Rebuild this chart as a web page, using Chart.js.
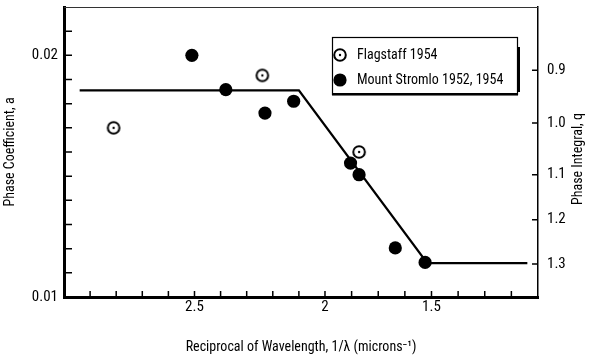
<!DOCTYPE html>
<html>
<head>
<meta charset="utf-8">
<script src="https://cdn.jsdelivr.net/npm/chart.js@4/dist/chart.umd.min.js"></script>
<style>
  html, body { margin: 0; padding: 0; background: #fff; }
  canvas { display: block; }
</style>
</head>
<body>
<canvas id="chart" width="589" height="363"></canvas>
<script>
// Observations: reciprocal wavelength (1/µm) and phase coefficient a
const flagstaffX = [2.81, 2.24, 1.84];
const flagstaffA = [0.0170, 0.01917, 0.0160];
const stromloX = [2.51, 2.38, 2.23, 2.12, 1.88, 1.84, 1.67, 1.53];
const stromloA = [0.0200, 0.01858, 0.01761, 0.0181, 0.01554, 0.01506, 0.01203, 0.01143];

// Adopted relation (broken line)
const fitX = [2.94, 2.10, 1.52, 1.05];
const fitA = [0.01855, 0.01855, 0.0114, 0.0114];

// Axis ticks
const xTickValues = [2.9, 2.8, 2.7, 2.6, 2.5, 2.4, 2.3, 2.2, 2.1, 2.0,
                     1.875, 1.75, 1.625, 1.5, 1.375, 1.25, 1.125];
const xTickLabels = { '2.5': '2.5', '2': '2', '1.5': '1.5' };
const aLabeled = [0.01, 0.02];
const qLabels = ['0.9', '1.0', '1.1', '1.2', '1.3'];
const qAtA = [0.01938, 0.01720, 0.01506, 0.01320, 0.01137];

const FONT = "'Roboto Condensed', 'DejaVu Sans Condensed', sans-serif";

// Wavelength axis: linear pieces between knots, values decreasing to the right
class PiecewiseScale extends Chart.LinearScale {
  static id = 'piecewise';
  static defaults = {};
  _toDecimal(v) {
    const k = this.options.knots;
    for (let i = 0; i < k.length - 1; i++) {
      const a = k[i], b = k[i + 1];
      const lo = Math.min(a.value, b.value), hi = Math.max(a.value, b.value);
      if ((v >= lo && v <= hi) || i === k.length - 2 || (i === 0 && (v - a.value) * (b.value - a.value) < 0)) {
        return a.at + (v - a.value) / (b.value - a.value) * (b.at - a.at);
      }
    }
    return 0;
  }
  _fromDecimal(d) {
    const k = this.options.knots;
    for (let i = 0; i < k.length - 1; i++) {
      const a = k[i], b = k[i + 1];
      if (d <= b.at || i === k.length - 2) {
        return a.value + (d - a.at) / (b.at - a.at) * (b.value - a.value);
      }
    }
    return 0;
  }
  getPixelForValue(value) {
    if (value === null || isNaN(value)) return NaN;
    return this.getPixelForDecimal(this._toDecimal(value));
  }
  getValueForPixel(pixel) {
    return this._fromDecimal(this.getDecimalForPixel(pixel));
  }
}
Chart.register(PiecewiseScale);

// Open circle with a centre dot
function openCircle() {
  const c = document.createElement('canvas');
  c.width = 16; c.height = 16;
  const g = c.getContext('2d');
  g.strokeStyle = '#000'; g.lineWidth = 2;
  g.beginPath(); g.arc(8, 8, 5.8, 0, Math.PI * 2); g.stroke();
  g.fillStyle = '#000';
  g.beginPath(); g.arc(8, 8, 1.2, 0, Math.PI * 2); g.fill();
  return c;
}
const openMarker = openCircle();

const zip = (xs, ys) => xs.map((x, i) => ({ x, y: ys[i] }));

// Vertical axes hug the frame: no extra room for half-height end labels
const noEndPadding = s => {
  s.paddingTop = 0; s.paddingBottom = 0;
};

// Inward tick marks on the frame
const innerTicks = {
  id: 'innerTicks',
  afterDatasetsDraw(chart) {
    const { ctx, chartArea: ca, scales } = chart;
    ctx.save();
    ctx.strokeStyle = '#000';
    ctx.lineWidth = 1.5;
    ctx.beginPath();
    scales.x.ticks.forEach(t => {
      const px = scales.x.getPixelForValue(t.value);
      ctx.moveTo(px, ca.bottom); ctx.lineTo(px, ca.bottom - 6);
    });
    scales.y.ticks.forEach(t => {
      const py = scales.y.getPixelForValue(t.value);
      if (py < ca.top + 2 || py > ca.bottom - 2) return;
      ctx.moveTo(ca.left, py); ctx.lineTo(ca.left + 8, py);
    });
    scales.q.ticks.forEach(t => {
      const py = scales.q.getPixelForValue(t.value);
      ctx.moveTo(ca.right, py); ctx.lineTo(ca.right - 6, py);
    });
    ctx.stroke();
    // top edge of the frame
    ctx.lineWidth = 1;
    ctx.strokeStyle = '#333';
    ctx.beginPath();
    ctx.moveTo(ca.left, ca.top + 0.5); ctx.lineTo(ca.right, ca.top + 0.5);
    ctx.stroke();
    ctx.restore();
  }
};

// Right-hand axis title, reading upwards
const rightTitle = {
  id: 'rightTitle',
  afterDraw(chart, args, opts) {
    const { ctx } = chart;
    const s = chart.scales.q;
    ctx.save();
    ctx.translate(s.right - opts.offset, chart.chartArea.top + opts.centre);
    ctx.rotate(-Math.PI / 2);
    ctx.font = opts.font;
    ctx.fillStyle = '#000';
    ctx.textAlign = 'center';
    ctx.textBaseline = 'middle';
    ctx.fillText(opts.text, 0, 0);
    ctx.restore();
  }
};

// Boxed key inside the plot
const boxedKey = {
  id: 'boxedKey',
  afterDraw(chart, args, opts) {
    const { ctx, chartArea: ca } = chart;
    const x = ca.left + opts.left, y = ca.top + opts.top, w = opts.width, h = opts.height;
    ctx.save();
    ctx.fillStyle = '#fff';
    ctx.fillRect(x, y, w, h);
    ctx.strokeStyle = '#000';
    ctx.lineWidth = 1.2;
    ctx.strokeRect(x + 0.5, y + 0.5, w, h);
    ctx.fillStyle = '#000';
    ctx.fillRect(x + w, y + 10, 3, h - 12);
    ctx.fillRect(x, y + h - 1, w + 1, 2.5);
    ctx.font = opts.font;
    ctx.textBaseline = 'middle';
    ctx.textAlign = 'left';
    const items = chart.data.datasets.filter(d => d.label && !d.hideInKey);
    items.forEach((d, i) => {
      const cy = y + opts.firstRow + i * opts.rowGap;
      const cx = x + opts.markerX;
      if (d.pointStyle instanceof HTMLCanvasElement) {
        ctx.drawImage(d.pointStyle, cx - d.pointStyle.width / 2, cy - d.pointStyle.height / 2);
      } else {
        ctx.beginPath(); ctx.arc(cx, cy, d.pointRadius, 0, Math.PI * 2); ctx.fill();
      }
      ctx.fillText(d.label, x + opts.textX, cy);
    });
    ctx.restore();
  }
};

new Chart(document.getElementById('chart'), {
  type: 'scatter',
  data: {
    datasets: [
      {
        label: 'Flagstaff 1954',
        data: zip(flagstaffX, flagstaffA),
        pointStyle: openMarker,
        pointRadius: 6,
        order: 0
      },
      {
        label: 'Mount Stromlo 1952, 1954',
        data: zip(stromloX, stromloA),
        pointStyle: 'circle',
        pointRadius: 6.6,
        backgroundColor: '#000',
        borderColor: '#000',
        borderWidth: 0,
        order: 0
      },
      {
        label: 'adopted',
        hideInKey: true,
        data: zip(fitX, fitA),
        showLine: true,
        pointRadius: 0,
        borderColor: '#000',
        borderWidth: 2.3,
        order: 2
      }
    ]
  },
  options: {
    responsive: false,
    animation: false,
    events: [],
    layout: { padding: { top: 5, left: 0, right: 0, bottom: 0 } },
    plugins: {
      legend: { display: false },
      tooltip: { enabled: false },
      rightTitle: { text: 'Phase Integral, q', font: "14px " + FONT, offset: 11, centre: 152 },
      boxedKey: {
        left: 268, top: 30, width: 185, height: 57,
        markerX: 8, textX: 25, firstRow: 18, rowGap: 25,
        font: "14px " + FONT
      }
    },
    scales: {
      x: {
        type: 'piecewise',
        position: 'bottom',
        min: 1, max: 3,
        knots: [{ value: 3, at: 0 }, { value: 2, at: 0.5506 }, { value: 1, at: 1 }],
        afterBuildTicks: s => { s.ticks = xTickValues.map(v => ({ value: v })); },
        afterFit: s => { s.height = 66; s.paddingLeft = 0; s.paddingRight = 0; },
        grid: { display: false, drawTicks: false },
        border: { display: true, width: 3, color: '#000' },
        ticks: {
          autoSkip: false, maxRotation: 0, padding: 1, color: '#000',
          font: { family: FONT, size: 15 },
          callback: v => xTickLabels[String(Math.round(v * 1000) / 1000)] || ''
        },
        title: {
          display: true, text: 'Reciprocal of Wavelength, 1/λ (microns⁻¹)',
          color: '#000', font: { family: FONT, size: 14 }, padding: { top: 0, bottom: 7 }
        }
      },
      y: {
        type: 'linear',
        position: 'left',
        min: 0.01, max: 0.022,
        afterFit: s => { s.width = 64; noEndPadding(s); },
        grid: { display: false, drawTicks: false },
        border: { display: true, width: 3, color: '#000' },
        ticks: {
          stepSize: 0.001, autoSkip: false, padding: 6, color: '#000',
          font: { family: FONT, size: 15 },
          callback: v => aLabeled.some(l => Math.abs(l - v) < 1e-7) ? String(Math.round(v * 100) / 100) : ''
        },
        title: {
          display: true, text: 'Phase Coefficient, a',
          color: '#000', font: { family: FONT, size: 14 }, padding: { top: 2, bottom: 0 }
        }
      },
      q: {
        type: 'linear',
        position: 'right',
        min: 0.01, max: 0.022,
        afterBuildTicks: s => { s.ticks = qAtA.map(v => ({ value: v })); },
        afterFit: s => { s.width = 51; noEndPadding(s); },
        grid: { display: false, drawTicks: false },
        border: { display: true, width: 1.5, color: '#000' },
        ticks: {
          autoSkip: false, padding: 9, color: '#000',
          font: { family: FONT, size: 15 },
          callback: (v, i) => qLabels[i]
        }
      }
    }
  },
  plugins: [innerTicks, rightTitle, boxedKey]
});
</script>
</body>
</html>
